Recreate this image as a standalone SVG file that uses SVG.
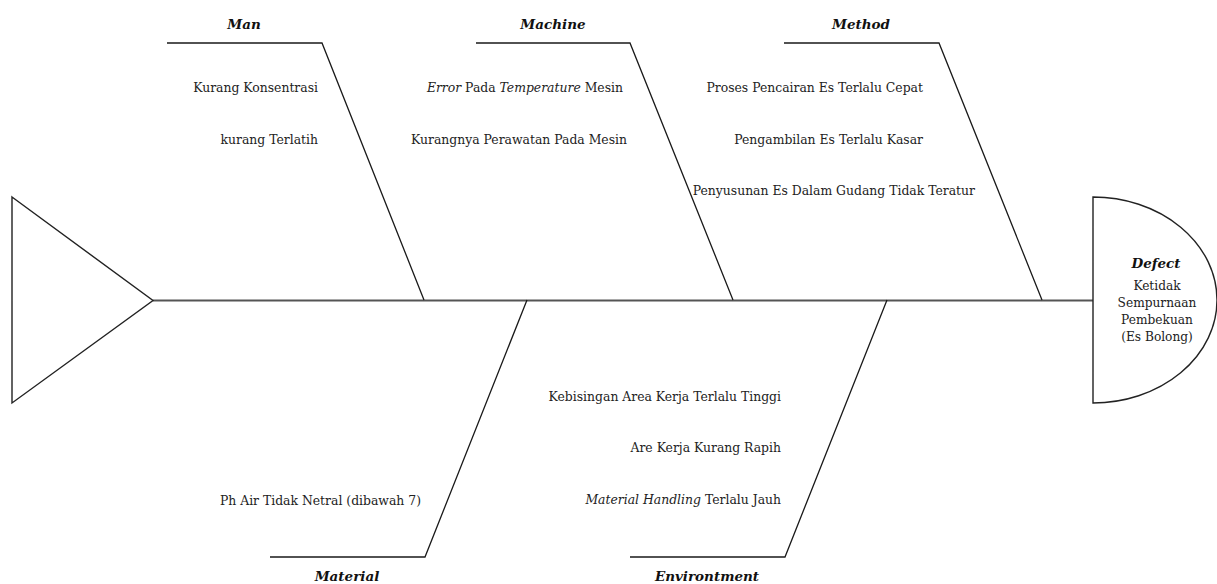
<svg xmlns="http://www.w3.org/2000/svg" width="1217" height="584" viewBox="0 0 1217 584">
<style>
.bone{fill:none;stroke:#1a1a1a;stroke-width:1.3}
.spine{fill:none;stroke:#555;stroke-width:2}
.shape{fill:#fff;stroke:#222;stroke-width:1.4}
text{font-family:'DejaVu Serif','Liberation Serif',serif}
.cat{font-size:13.5px;font-weight:bold;font-style:italic;fill:#111;text-anchor:middle}
.item{font-size:12.4px;fill:#222;text-anchor:end}
.head{font-size:12.2px;fill:#222;text-anchor:middle}
.it{font-style:italic}
</style>
<rect width="1217" height="584" fill="#fff"/>
<g id="connectors">
<line class="spine" x1="153" y1="300.5" x2="1093" y2="300.5"/>
<polyline class="bone" points="167,43 322,43 424,300"/>
<polyline class="bone" points="476,43 630,43 733,300"/>
<polyline class="bone" points="784,43 939,43 1042,300"/>
<polyline class="bone" points="270,557 425,557 527,300"/>
<polyline class="bone" points="630,557 785,557 887,300"/>
</g>
<g id="tail">
<polygon class="shape" points="12,197 153,300.5 12,403"/>
</g>
<g id="head">
<path class="shape" d="M1093,197 A124,103 0 0 1 1093,403 Z"/>
<text class="cat" x="1156" y="268">Defect</text>
<text class="head" x="1157" y="290">Ketidak</text>
<text class="head" x="1157" y="307">Sempurnaan</text>
<text class="head" x="1157" y="324">Pembekuan</text>
<text class="head" x="1157" y="341">(Es Bolong)</text>
</g>
<g id="man">
<text class="cat" x="244" y="29">Man</text>
<text class="item" x="318" y="92">Kurang Konsentrasi</text>
<text class="item" x="318" y="144">kurang Terlatih</text>
</g>
<g id="machine">
<text class="cat" x="553" y="29">Machine</text>
<text class="item" x="623" y="92"><tspan class="it">Error</tspan> Pada <tspan class="it">Temperature</tspan> Mesin</text>
<text class="item" x="627" y="144">Kurangnya Perawatan Pada Mesin</text>
</g>
<g id="method">
<text class="cat" x="861" y="29">Method</text>
<text class="item" x="923" y="92">Proses Pencairan Es Terlalu Cepat</text>
<text class="item" x="923" y="144">Pengambilan Es Terlalu Kasar</text>
<text class="item" x="975" y="195">Penyusunan Es Dalam Gudang Tidak Teratur</text>
</g>
<g id="material">
<text class="cat" x="347" y="581">Material</text>
<text class="item" x="421" y="505">Ph Air Tidak Netral (dibawah 7)</text>
</g>
<g id="environment">
<text class="cat" x="707" y="581">Environtment</text>
<text class="item" x="781" y="401">Kebisingan Area Kerja Terlalu Tinggi</text>
<text class="item" x="781" y="452">Are Kerja Kurang Rapih</text>
<text class="item" x="781" y="504"><tspan class="it">Material Handling</tspan> Terlalu Jauh</text>
</g>
</svg>
